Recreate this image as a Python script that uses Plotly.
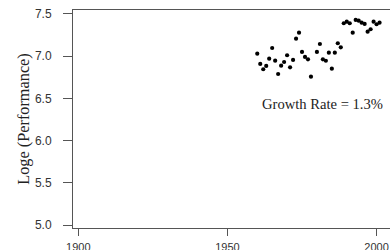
import plotly.graph_objects as go

years = [1960, 1961, 1962, 1963, 1964, 1965, 1966, 1967, 1968, 1969,
         1970, 1971, 1972, 1973, 1974, 1975, 1976, 1977, 1978,
         1980, 1981, 1982, 1983, 1984, 1985, 1986, 1987, 1988, 1989,
         1990, 1991, 1992, 1993, 1994, 1995, 1996, 1997, 1998, 1999,
         2000, 2001]
log_perf = [7.030, 6.908, 6.845, 6.884, 6.970, 7.097, 6.947, 6.789, 6.887, 6.931,
            7.011, 6.868, 6.955, 7.207, 7.278, 7.050, 6.991, 6.963, 6.757,
            7.050, 7.144, 6.963, 6.946, 7.041, 6.852, 7.041, 7.153, 7.105, 7.390,
            7.409, 7.390, 7.278, 7.429, 7.421, 7.397, 7.382, 7.290, 7.319, 7.409,
            7.378, 7.397]

x_ticks = [1900, 1950, 2000]
y_ticks = [5.0, 5.5, 6.0, 6.5, 7.0, 7.5]
y_tick_text = ["5.0", "5.5", "6.0", "6.5", "7.0", "7.5"]
annotation_text = "Growth Rate = 1.3%"
y_title = "Loge (Performance)"

serif = "Liberation Serif, Times New Roman, serif"
sans = "Liberation Sans, Arial, Helvetica, sans-serif"

fig = go.Figure()
fig.add_trace(go.Scatter(
    x=years, y=log_perf, mode="markers",
    marker=dict(color="black", size=4.2, symbol="circle"),
    showlegend=False, hoverinfo="skip",
))

fig.add_annotation(
    x=1982.0, y=6.434, xref="x", yref="y", text=annotation_text,
    showarrow=False, font=dict(family=serif, size=14.6, color="#222"),
    xanchor="center", yanchor="middle",
)

fig.update_layout(
    width=390, height=250,
    margin=dict(l=73, r=0, t=10, b=22, autoexpand=False),
    paper_bgcolor="white", plot_bgcolor="white",
    xaxis=dict(
        range=[1898.22, 2004.5], tickvals=x_ticks, ticktext=[str(v) for v in x_ticks],
        showgrid=False, zeroline=False, showline=True, mirror=True,
        linecolor="#555", linewidth=1, automargin=False,
        ticks="outside", ticklen=7, tickcolor="#555", tickwidth=1,
        tickfont=dict(family=sans, size=11, color="#333"),
        ticklabelstandoff=2, ticklabeloverflow="allow",
    ),
    yaxis=dict(
        range=[4.9645, 7.547], tickvals=y_ticks, ticktext=y_tick_text,
        showgrid=False, zeroline=False, showline=True, mirror=True,
        linecolor="#555", linewidth=1, automargin=False,
        ticks="outside", ticklen=9, tickcolor="#555", tickwidth=1,
        tickfont=dict(family=sans, size=12, color="#333"),
        ticklabelstandoff=9, ticklabeloverflow="allow",
        title=dict(text=y_title, font=dict(family=serif, size=16.3, color="#222"), standoff=1),
    ),
)

fig.write_html("out.html", config={"displayModeBar": False},
               post_script="document.body.style.margin='0';")
